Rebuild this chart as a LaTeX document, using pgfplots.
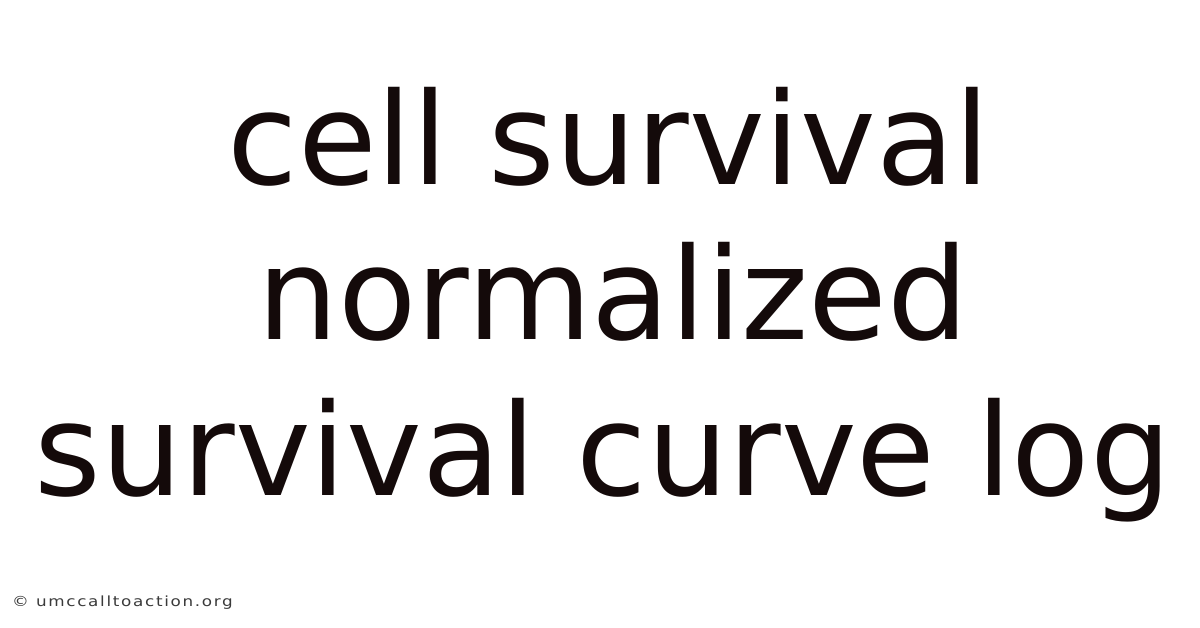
\documentclass[border=0pt]{standalone}
\usepackage{pgfplots}
\pgfplotsset{compat=1.18}
\usepackage{fontspec}
\setmainfont{DejaVu Sans}
\newfontfamily\smallfont[LetterSpace=12,FakeStretch=1.2]{DejaVu Sans}
\definecolor{ink}{HTML}{140A0A}
\definecolor{gray1}{HTML}{3A3A3A}
\begin{document}
\begin{tikzpicture}
\path[use as bounding box] (0,0) rectangle (1200bp,628bp);
\begin{axis}[hide axis, scale only axis, width=1200bp, height=628bp,
  xmin=0, xmax=1200, ymin=0, ymax=628, clip=false, anchor=origin, at={(0,0)}]
\addplot[draw=none] coordinates {(0,0) (1200,628)};
\node[anchor=base, text=ink, inner sep=0pt, font=\fontsize{128bp}{128bp}\selectfont] at (axis cs:609,443) {cell survival};
\node[anchor=base, text=ink, inner sep=0pt, font=\fontsize{128bp}{128bp}\selectfont] at (axis cs:613,288) {normalized};
\node[anchor=base, text=ink, inner sep=0pt, font=\fontsize{128bp}{128bp}\selectfont] at (axis cs:603,132) {survival curve log};
\node[anchor=base west, text=gray1, inner sep=0pt, font=\smallfont\fontsize{14bp}{14bp}\selectfont] at (axis cs:12,22) {© umccalltoaction.org};
\end{axis}
\end{tikzpicture}
\end{document}
